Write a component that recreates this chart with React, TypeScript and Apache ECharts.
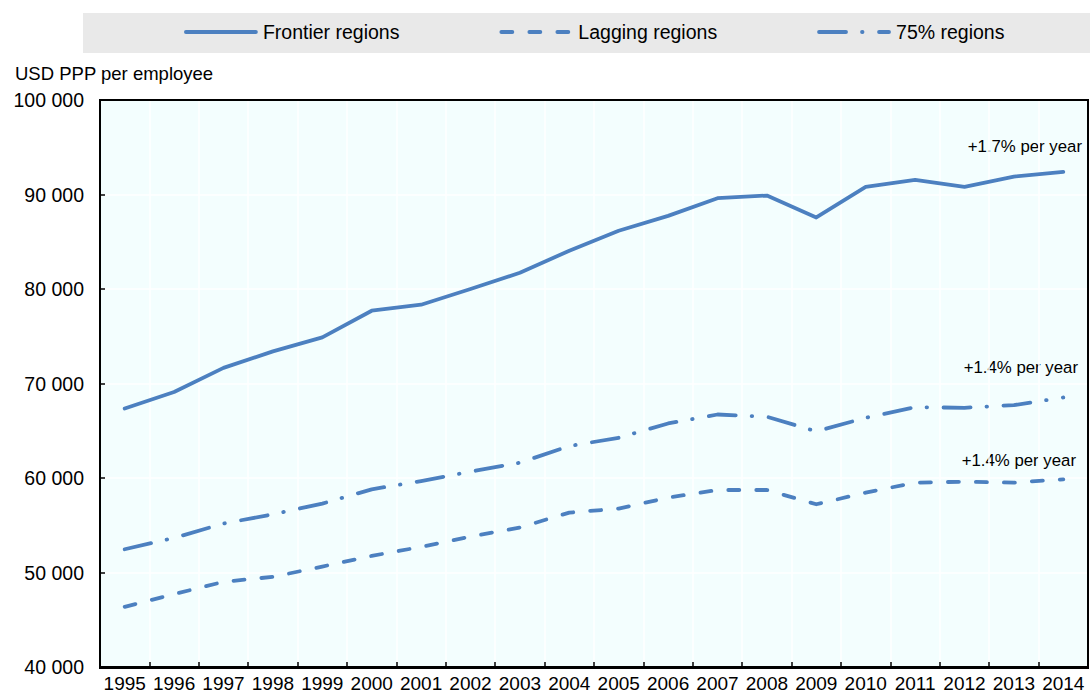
import React, { useEffect, useRef } from "react";
import * as echarts from "echarts";

const years = ["1995","1996","1997","1998","1999","2000","2001","2002","2003","2004","2005","2006","2007","2008","2009","2010","2011","2012","2013","2014"];
const frontier = [67350, 69100, 71650, 73400, 74880, 77700, 78340, 80000, 81720, 84050, 86160, 87740, 89610, 89890, 87570, 90810, 91550, 90810, 91900, 92390];
const lagging = [46370, 47710, 49010, 49540, 50630, 51760, 52710, 53800, 54760, 56340, 56760, 57920, 58730, 58730, 57220, 58450, 59510, 59610, 59510, 59860];
const regions75 = [52460, 53660, 55180, 56160, 57290, 58800, 59680, 60670, 61620, 63380, 64260, 65770, 66720, 66480, 64930, 66370, 67500, 67430, 67710, 68520];
const seriesNames = ["Frontier regions", "Lagging regions", "75% regions"];
const annotations = ["+1.7% per year", "+1.4% per year", "+1.4% per year"];
const unitLabel = "USD PPP per employee";

const BLUE = "#4c80c0";
const FONT = "'Liberation Sans', Arial, sans-serif";

export default function App() {
  const ref = useRef<HTMLDivElement>(null);
  useEffect(() => {
    document.body.style.margin = "0";
    const chart = echarts.init(ref.current!, null, { renderer: "svg" });
    const fmt = (v: number) => String(v).replace(/\B(?=(\d{3})+(?!\d))/g, " ");
    const annot = (text: string, x: number, y: number) => ({
      type: "text", x, y,
      style: { text, fontSize: 16.8, fill: "#000", fontFamily: FONT, align: "right", verticalAlign: "middle" },
    });
    chart.setOption({
      animation: false,
      textStyle: { fontFamily: FONT },
      grid: {
        left: 100, right: 2, top: 100, bottom: 25,
        show: true, backgroundColor: "#f3fefe", borderWidth: 0,
      },
      legend: {
        left: 184, top: 22, padding: 0,
        itemWidth: 70, itemHeight: 20, itemGap: 100,
        itemStyle: { opacity: 0, borderWidth: 0 },
        lineStyle: { width: 3.8 },
        textStyle: { fontSize: 19.5, color: "#000", fontFamily: FONT, padding: [0, 0, 0, 2] },
        data: seriesNames,
      },
      xAxis: {
        type: "category",
        data: years,
        boundaryGap: true,
        axisLine: { show: true, lineStyle: { color: "#000", width: 2 } },
        axisTick: { show: true, inside: true, length: 5, lineStyle: { color: "#000", width: 1.5 } },
        axisLabel: { interval: 0, fontSize: 19, color: "#000", margin: 7, fontFamily: FONT },
        splitLine: { show: true, lineStyle: { color: "#ffffff", width: 1.5 } },
      },
      yAxis: {
        type: "value",
        min: 40000, max: 100000, interval: 10000,
        axisLine: { show: true, lineStyle: { color: "#000", width: 2 } },
        axisTick: { show: true, inside: true, length: 5, lineStyle: { color: "#000", width: 1.5 } },
        axisLabel: { fontSize: 19.5, color: "#000", margin: 16, formatter: fmt, fontFamily: FONT },
        splitLine: { show: true, lineStyle: { color: "#ffffff", width: 1.5 } },
      },
      graphic: [
        { type: "rect", z: -10, silent: true, shape: { x: 83, y: 13, width: 1007, height: 40 }, style: { fill: "#e9e9e9" } },
        { type: "rect", z: 100, silent: true, shape: { x: 100, y: 100, width: 988, height: 568 }, style: { fill: "none", stroke: "#000", lineWidth: 2 } },
        { type: "text", left: 15, top: 64, style: { text: unitLabel, fontSize: 18.5, fill: "#000", fontFamily: FONT } },
        annot(annotations[0], 1082, 146),
        annot(annotations[1], 1078, 367),
        annot(annotations[2], 1076, 460),
      ],
      series: [
        {
          name: seriesNames[0], type: "line", data: frontier, symbol: "none",
          lineStyle: { color: BLUE, width: 3.8, cap: "round", join: "round" },
          itemStyle: { color: BLUE },
        },
        {
          name: seriesNames[1], type: "line", data: lagging, symbol: "none",
          lineStyle: { color: BLUE, width: 3.8, type: [11, 17], cap: "round", join: "round" },
          itemStyle: { color: BLUE },
        },
        {
          name: seriesNames[2], type: "line", data: regions75, symbol: "none",
          lineStyle: { color: BLUE, width: 3.8, type: [27, 16, 0.5, 16.5], cap: "round", join: "round" },
          itemStyle: { color: BLUE },
        },
      ],
    });
    return () => chart.dispose();
  }, []);
  return <div ref={ref} style={{ width: 1090, height: 693 }} />;
}
